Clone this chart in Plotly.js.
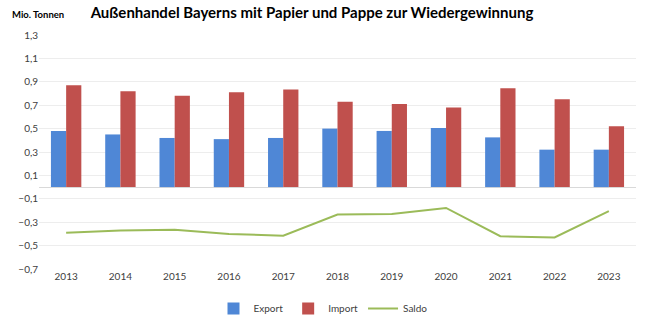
<!DOCTYPE html>
<html>
<head>
<meta charset="utf-8">
<script src="https://cdn.plot.ly/plotly-3.0.1.min.js"></script>
<style>html,body{margin:0;padding:0;background:#fff}#chart{width:646px;height:323px}</style>
</head>
<body>
<div id="chart"></div>
<script>
const years = ['2013','2014','2015','2016','2017','2018','2019','2020','2021','2022','2023'];
const exportVals = [0.48, 0.45, 0.42, 0.41, 0.42, 0.50, 0.48, 0.505, 0.425, 0.32, 0.32];
const importVals = [0.87, 0.82, 0.78, 0.81, 0.835, 0.73, 0.71, 0.68, 0.845, 0.75, 0.52];
const saldoVals  = [-0.39, -0.37, -0.365, -0.40, -0.415, -0.235, -0.23, -0.178, -0.42, -0.43, -0.205];
const yTickVals = [-0.7, -0.5, -0.3, -0.1, 0.1, 0.3, 0.5, 0.7, 0.9, 1.1, 1.3];

const font = 'Lato, "Open Sans", sans-serif';
const data = [
  {type:'bar', name:'Export', x:years, y:exportVals, marker:{color:'#4F87D6'}},
  {type:'bar', name:'Import', x:years, y:importVals, marker:{color:'#C0504D'}},
  {type:'scatter', mode:'lines', name:'Saldo', x:years, y:saldoVals, line:{color:'#9BBB59', width:2}}
];
const layout = {
  width:646, height:323,
  margin:{l:39, r:10, t:35, b:54},
  paper_bgcolor:'#fff', plot_bgcolor:'#fff',
  separators:',.',
  font:{family:font, size:10, color:'#404040'},
  title:{text:'<b>Außenhandel Bayerns mit Papier und Pappe zur Wiedergewinnung</b>',
         font:{family:font, size:15, color:'#000'},
         x:0.483, xanchor:'center', xref:'container', y:0.96, yanchor:'middle', yref:'container'},
  barmode:'group', bargap:0.44, bargroupgap:0,
  xaxis:{type:'category', showgrid:false, showline:false, ticks:'', tickfont:{size:10, color:'#404040'}},
  yaxis:{range:[-0.7,1.3], tickvals:yTickVals, tickformat:'.1f', showgrid:true, gridcolor:'#ededed', gridwidth:1,
         zeroline:true, zerolinecolor:'#d9d9d9', zerolinewidth:1, showline:false, ticks:'', ticklen:4,
         tickfont:{size:10, color:'#404040'}},
  showlegend:true,
  legend:{orientation:'h', xref:'container', yref:'container', x:0.5, xanchor:'center', y:0.045, yanchor:'middle',
          font:{size:10, color:'#404040'}, itemwidth:30, tracegroupgap:0},
  annotations:[{text:'<b>Mio. Tonnen</b>', xref:'paper', yref:'paper', x:-29/597, xanchor:'left',
                y:1+21/234, yanchor:'middle', showarrow:false, font:{family:font, size:9.5, color:'#000'}}]
};
Plotly.newPlot('chart', data, layout, {displayModeBar:false, staticPlot:true});
</script>
</body>
</html>
